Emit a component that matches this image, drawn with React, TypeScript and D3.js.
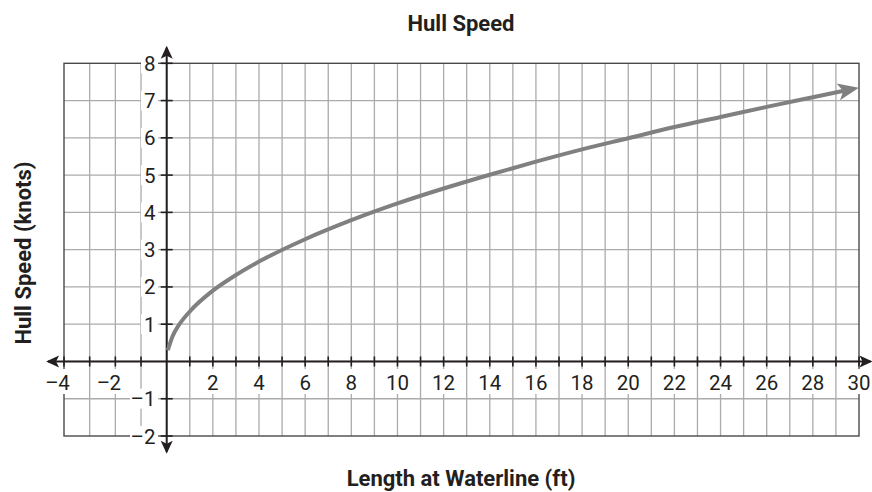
import { line, scaleLinear, range, curveMonotoneX } from 'd3'

const lengthFt = [0.05, 0.25, 0.5, 1, 2, 3, 4, 6, 8, 10, 12, 14, 16, 18, 20, 22, 24, 26, 28, 29.4]
const hullSpeed = [0.3, 0.67, 0.95, 1.34, 1.9, 2.32, 2.68, 3.28, 3.79, 4.24, 4.64, 5.01, 5.36, 5.69, 5.99, 6.29, 6.56, 6.83, 7.09, 7.27]

const xTickLabels = [-4, -2, 2, 4, 6, 8, 10, 12, 14, 16, 18, 20, 22, 24, 26, 28, 30]
const yTickLabels = [8, 7, 6, 5, 4, 3, 2, 1, -1, -2]

const W = 872
const H = 492
const FONT = 'Roboto, "Open Sans", sans-serif'
const INK = '#231f20'

export default function App() {
  // the grid is a bit wider left of the y axis than right of it
  const x = scaleLinear().domain([-4, 0, 30]).range([64, 166.7, 859])
  const y = scaleLinear().domain([-2, 8]).range([436, 63.3])

  const pts = lengthFt.map((l, i) => [l, hullSpeed[i]] as [number, number])
  const path =
    line<[number, number]>()
      .x((d) => x(d[0]))
      .y((d) => y(d[1]))
      .curve(curveMonotoneX)(pts) ?? ''

  const gridColor = '#ababab'
  const fs = 20.5
  const digitW = fs * 0.562

  return (
    <svg
      width={W}
      height={H}
      viewBox={`0 0 ${W} ${H}`}
      style={{ position: 'absolute', left: 0, top: 0, background: '#fff' }}
    >
      <defs>
        <marker id="axArrow" markerUnits="userSpaceOnUse" markerWidth={20} markerHeight={20}
          viewBox="-14 -10 20 20" refX={0} refY={0} orient="auto-start-reverse">
          <path d="M2,0 L-11,-6 L-8,0 L-11,6 Z" fill={INK} />
        </marker>
        <marker id="curveArrow" markerUnits="userSpaceOnUse" markerWidth={40} markerHeight={30}
          viewBox="-20 -15 40 30" refX={0} refY={0} orient="auto">
          <path d="M14,0 L-7,-8.5 L-2,0 L-7,8.5 Z" fill="#808080" />
        </marker>
      </defs>

      <text x={461} y={31} textAnchor="middle" fontFamily={FONT} fontWeight={700} fontSize={22} fill={INK}>
        Hull Speed
      </text>

      {/* grid */}
      {range(-3, 30).map((v) => (
        <line key={`gx${v}`} x1={x(v)} x2={x(v)} y1={y(-2)} y2={y(8)} stroke={gridColor} strokeWidth={1.3} />
      ))}
      {range(-1, 8).map((v) => (
        <line key={`gy${v}`} x1={x(-4)} x2={x(30)} y1={y(v)} y2={y(v)} stroke={gridColor} strokeWidth={1.3} />
      ))}
      <rect x={x(-4)} y={y(8)} width={x(30) - x(-4)} height={y(-2) - y(8)} fill="none" stroke="#4a4a4a" strokeWidth={1.4} />

      {/* tick labels, on white */}
      {xTickLabels.map((v) => {
        const n = String(Math.abs(v)).length
        const dash = v < 0 ? 11 : 0
        const cx = x(v)
        return (
          <g key={`xl${v}`}>
            <rect x={cx - (n * digitW) / 2 - dash - 2} y={369} width={n * digitW + dash + 4} height={25} fill="#fff" />
            {v < 0 && (
              <text x={cx - (n * digitW) / 2 + 0.5} y={390} textAnchor="end" fontFamily={FONT} fontSize={fs} fill={INK}>–</text>
            )}
            <text x={cx} y={390} textAnchor="middle" fontFamily={FONT} fontSize={fs} fill={INK}>
              {Math.abs(v)}
            </text>
          </g>
        )
      })}
      {yTickLabels.map((v) => {
        const label = v < 0 ? `–${-v}` : String(v)
        const w = v < 0 ? 23 : 12
        return (
          <g key={`yl${v}`}>
            <rect x={156 - w - 3} y={y(v) - 10} width={w + 5} height={20} fill="#fff" />
            <text x={155.5} y={y(v) + 7.5} textAnchor="end" fontFamily={FONT} fontSize={fs} fill={INK}>
              {label}
            </text>
          </g>
        )
      })}

      {/* axes */}
      <line x1={x(-4.62)} x2={x(30.5)} y1={y(0)} y2={y(0)} stroke={INK} strokeWidth={2}
        markerStart="url(#axArrow)" markerEnd="url(#axArrow)" />
      <line x1={x(0)} x2={x(0)} y1={y(-2.42)} y2={y(8.42)} stroke={INK} strokeWidth={2}
        markerStart="url(#axArrow)" markerEnd="url(#axArrow)" />
      {range(-4, 31).filter((v) => v !== 0).map((v) => (
        <line key={`tx${v}`} x1={x(v)} x2={x(v)} y1={y(0) - 5} y2={y(0) + 5} stroke={INK} strokeWidth={1.6} />
      ))}
      {range(-2, 9).filter((v) => v !== 0).map((v) => (
        <line key={`ty${v}`} x1={x(0) - 6} x2={x(0) + 6} y1={y(v)} y2={y(v)} stroke={INK} strokeWidth={1.6} />
      ))}

      {/* curve */}
      <path d={path} fill="none" stroke="#808080" strokeWidth={4} markerEnd="url(#curveArrow)" />

      <text x={461} y={486} textAnchor="middle" fontFamily={FONT} fontWeight={700} fontSize={22} fill={INK}>
        Length at Waterline (ft)
      </text>
      <text transform={`translate(31,253) rotate(-90)`} textAnchor="middle" fontFamily={FONT} fontWeight={700} fontSize={22} fill={INK}>
        Hull Speed (knots)
      </text>
    </svg>
  )
}
